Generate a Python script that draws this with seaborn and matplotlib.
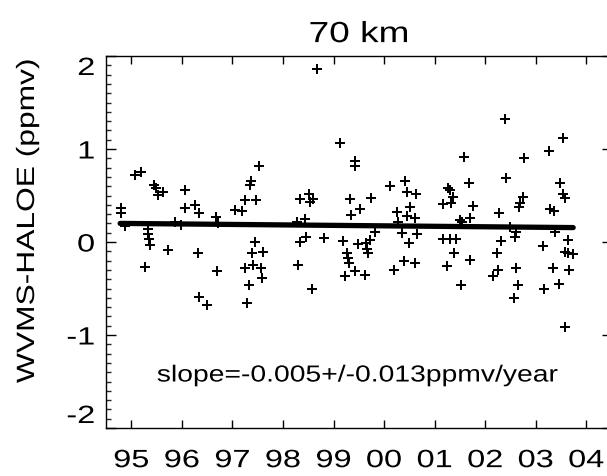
import numpy as np
import pandas as pd
import seaborn as sns
import matplotlib
matplotlib.use("Agg")
import matplotlib.pyplot as plt
from matplotlib.patheffects import AbstractPathEffect
from matplotlib.transforms import Affine2D
from matplotlib.ticker import MultipleLocator

# ---------------- data ----------------
years = [1994.80, 1994.80, 1994.88, 1995.08, 1995.20, 1995.34, 1995.34, 1995.36, 1995.38, 1995.28,
         1995.44, 1995.49, 1995.53, 1995.63, 1995.73, 1995.87, 1995.99, 1996.07, 1996.07, 1996.27,
         1996.34, 1996.31, 1996.33, 1996.50, 1996.68, 1996.72, 1996.70, 1997.06, 1997.18, 1997.25,
         1997.35, 1997.37, 1997.47, 1997.53, 1997.45, 1997.39, 1997.61, 1997.24, 1997.41, 1997.57,
         1997.59, 1997.33, 1997.29, 1998.68, 1999.13, 1999.43, 1999.43, 2000.12, 2000.42, 2000.46,
         2000.64, 1998.34, 1998.52, 1998.60, 1998.54, 1999.33, 1999.75, 1999.53, 1999.35, 1998.28,
         1998.44, 2000.26, 2000.52, 2000.46, 2000.62, 2000.28, 1998.46, 1998.34, 1998.82, 1999.19,
         1999.49, 1999.65, 1999.67, 1999.69, 1999.73, 1999.83, 2000.36, 2000.66, 2000.50, 1998.30,
         1998.58, 1999.27, 1999.29, 1999.31, 1999.23, 1999.43, 1999.63, 2000.20, 2000.40, 2000.62,
         2002.40, 2003.54, 2003.27, 2001.59, 2002.77, 2002.42, 2001.67, 2003.47, 2003.54, 2003.58,
         2001.27, 2001.31, 2001.37, 2001.17, 2001.33, 2001.76, 2002.75, 2002.69, 2002.67, 2003.29,
         2003.37, 2002.28, 2001.70, 2001.51, 2001.55, 2002.50, 2002.60, 2002.58, 2002.32, 2001.17,
         2001.31, 2001.43, 2003.39, 2003.15, 2003.64, 2001.39, 2001.25, 2001.70, 2001.53, 2002.24,
         2002.26, 2002.16, 2002.61, 2002.65, 2002.56, 2003.35, 2003.17, 2003.45, 2003.58, 2003.64,
         2003.74, 2003.66, 2003.58]

diff_ppmv = [0.366, 0.312, 0.172, 0.720, 0.753, 0.140, 0.086, 0.032, -0.032, -0.269,
             0.613, 0.581, 0.505, 0.538, -0.086, 0.215, 0.183, 0.559, 0.366, 0.398,
             0.312, -0.118, -0.591, -0.677, 0.269, 0.204, -0.312, 0.344, 0.333, 0.452,
             0.613, 0.656, 0.452, 0.817, 0.000, -0.118, -0.108, -0.280, -0.247, -0.280,
             -0.387, -0.462, -0.656, 1.860, 1.065, 0.871, 0.817, 0.602, 0.656, 0.538,
             0.516, 0.462, 0.516, 0.462, 0.430, 0.462, 0.473, 0.355, 0.290, 0.215,
             0.247, 0.323, 0.376, 0.280, 0.258, 0.215, 0.054, 0.000, 0.043, 0.011,
             -0.022, -0.011, -0.075, -0.118, 0.022, 0.108, 0.097, 0.086, -0.011, -0.247,
             -0.505, -0.118, -0.172, -0.226, -0.366, -0.312, -0.355, -0.301, -0.204, -0.226,
             1.323, 1.118, 0.978, 0.914, 0.903, 0.688, 0.634, 0.634, 0.516, 0.473,
             0.581, 0.559, 0.484, 0.409, 0.419, 0.387, 0.484, 0.419, 0.376, 0.355,
             0.333, 0.312, 0.258, 0.237, 0.215, 0.161, 0.108, 0.054, 0.011, 0.032,
             0.032, 0.032, 0.108, -0.043, 0.022, -0.118, -0.258, -0.194, -0.462, -0.118,
             -0.301, -0.366, -0.280, -0.462, -0.602, -0.280, -0.505, -0.452, -0.108, -0.118,
             -0.129, -0.301, -0.914]

trend_years = [1994.78, 2003.74]
trend_ppmv = [0.200, 0.155]

xtick_years = [1995, 1996, 1997, 1998, 1999, 2000, 2001, 2002, 2003, 2004]
xtick_labels = ["95", "96", "97", "98", "99", "00", "01", "02", "03", "04"]
ytick_values = [-2, -1, 0, 1, 2]
ytick_labels = ["-2", "-1", "0", "1", "2"]

title_text = "70 km"
ylabel_text = "WVMS-HALOE (ppmv)"
slope_text = "slope=-0.005+/-0.013ppmv/year"

df = pd.DataFrame({"year": years, "diff": diff_ppmv})
trend_df = pd.DataFrame({"year": trend_years, "diff": trend_ppmv})


# wide-glyph look of the original (IDL) font: stretch text along its baseline
class HStretch(AbstractPathEffect):
    def __init__(self, sx=1.27, anchor="center"):
        super().__init__()
        self.sx = sx
        self.anchor = anchor

    def draw_path(self, renderer, gc, tpath, affine, rgbFace=None):
        ext = tpath.get_extents()
        if self.anchor == "right":
            cx = ext.x1
        elif self.anchor == "left":
            cx = ext.x0
        else:
            cx = 0.5 * (ext.x0 + ext.x1)
        pre = Affine2D().translate(-cx, 0).scale(self.sx, 1.0).translate(cx, 0)
        renderer.draw_path(gc, tpath, pre + affine, rgbFace)


sns.set_style("ticks")
plt.rcParams["font.family"] = ["Liberation Sans", "DejaVu Sans"]

W, H = 607, 476
fig = plt.figure(figsize=(W / 100, H / 100), dpi=100)
fig.patch.set_facecolor("white")
ax = fig.add_axes([106 / W, 48 / H, 505.6 / W, 372 / H])
ax.set_facecolor("white")

sns.scatterplot(data=df, x="year", y="diff", marker="+", s=58, color="black",
                linewidth=1.45, ax=ax, legend=False, zorder=3)
sns.lineplot(data=trend_df, x="year", y="diff", color="black", linewidth=3.8,
             ax=ax, legend=False, zorder=2)

ax.set_xlim(1994.5, 2004.5)
ax.set_ylim(-2, 2)
ax.set_xticks(xtick_years, labels=xtick_labels)
ax.set_yticks(ytick_values, labels=ytick_labels)
ax.yaxis.set_minor_locator(MultipleLocator(0.1))
ax.set_xlabel("")
ax.set_ylabel("")

for sp in ax.spines.values():
    sp.set_linewidth(1.0)
    sp.set_color("black")

ax.tick_params(axis="x", which="major", direction="in", length=5.8, width=1.0,
               top=True, bottom=True, labelsize=18, pad=14.5, colors="black")
ax.tick_params(axis="y", which="major", direction="in", length=7.0, width=1.0,
               left=True, right=True, labelsize=18, pad=8, colors="black")
ax.tick_params(axis="y", which="minor", direction="in", length=3.4, width=1.0,
               left=True, right=True)

for lbl in ax.get_xticklabels():
    lbl.set_path_effects([HStretch(1.3, "center")])
ylbls = ax.get_yticklabels()
for lbl in ylbls:
    lbl.set_path_effects([HStretch(1.3, "right")])
ylbls[0].set_va("bottom")
ylbls[-1].set_va("top")

ax.set_title(title_text, fontsize=21, pad=10, color="black",
             path_effects=[HStretch(1.27, "center")])

fig.text(27 / W, 1 - 221 / H, ylabel_text, rotation=90, ha="center", va="center",
         fontsize=18, color="black", path_effects=[HStretch(1.27, "center")])

ax.text(0.5 - 2 / 505.6, 1 - (375 - 56) / 372, slope_text, transform=ax.transAxes,
        ha="center", va="center", fontsize=16.7, color="black",
        path_effects=[HStretch(1.22, "center")])

fig.savefig("out.png", dpi=100, facecolor="white")
